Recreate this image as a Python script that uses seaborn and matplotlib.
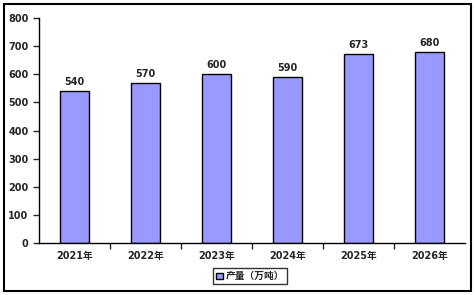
import matplotlib
matplotlib.use('Agg')
import matplotlib.pyplot as plt
import seaborn as sns
import pandas as pd
from matplotlib.patches import Rectangle, Patch

years = ['2021年', '2022年', '2023年', '2024年', '2025年', '2026年']
output = [540, 570, 600, 590, 673, 680]
series_name = '产量（万吨）'

sns.set_style('white')
plt.rcParams['font.family'] = ['DejaVu Sans', 'Noto Sans CJK SC']
plt.rcParams['font.weight'] = 'bold'

df = pd.DataFrame({'year': years, 'value': output})

fig = plt.figure(figsize=(4.75, 2.95), dpi=100)
ax = fig.add_axes([0.082, 0.176, 0.897, 0.763])

sns.barplot(data=df, x='year', y='value', color='#9999FF', edgecolor='black',
            linewidth=1.0, width=0.4, saturation=1, ax=ax)

ax.bar_label(ax.containers[0], fontsize=7, fontweight='bold', padding=3)

ax.set_ylim(0, 800)
ax.set_yticks(range(0, 801, 100))
ax.set_xlim(-0.5, len(years) - 0.5)
ax.set_xlabel('')
ax.set_ylabel('')
ax.set_xticks(range(len(years)))
ax.set_xticklabels(years)
ax.set_xticks([i + 0.5 for i in range(len(years) - 1)], minor=True)
ax.tick_params(axis='x', which='major', length=0, labelsize=7, pad=6)
ax.tick_params(axis='x', which='minor', length=4, width=1, direction='out', bottom=True)
ax.tick_params(axis='y', length=4, width=1, direction='out', left=True, labelsize=7)
for lab in ax.get_xticklabels() + ax.get_yticklabels():
    lab.set_fontweight('bold')

for s in ['top', 'right']:
    ax.spines[s].set_visible(False)
for s in ['left', 'bottom']:
    ax.spines[s].set_color('black')
    ax.spines[s].set_linewidth(1.0)

handle = Patch(facecolor='#9999FF', edgecolor='black', label=series_name)
leg = fig.legend(handles=[handle], loc='lower center', bbox_to_anchor=(0.527, 0.02),
                 frameon=True, fancybox=False, edgecolor='black',
                 handlelength=0.7, handleheight=0.7, handletextpad=0.3,
                 borderpad=0.3, prop={'weight': 'bold', 'size': 7})
leg.get_frame().set_linewidth(1.0)

fig.patches.append(Rectangle((0.008, 0.014), 0.984, 0.972, transform=fig.transFigure,
                             fill=False, edgecolor='black', linewidth=1.5))

fig.savefig('out.png', dpi=100)
